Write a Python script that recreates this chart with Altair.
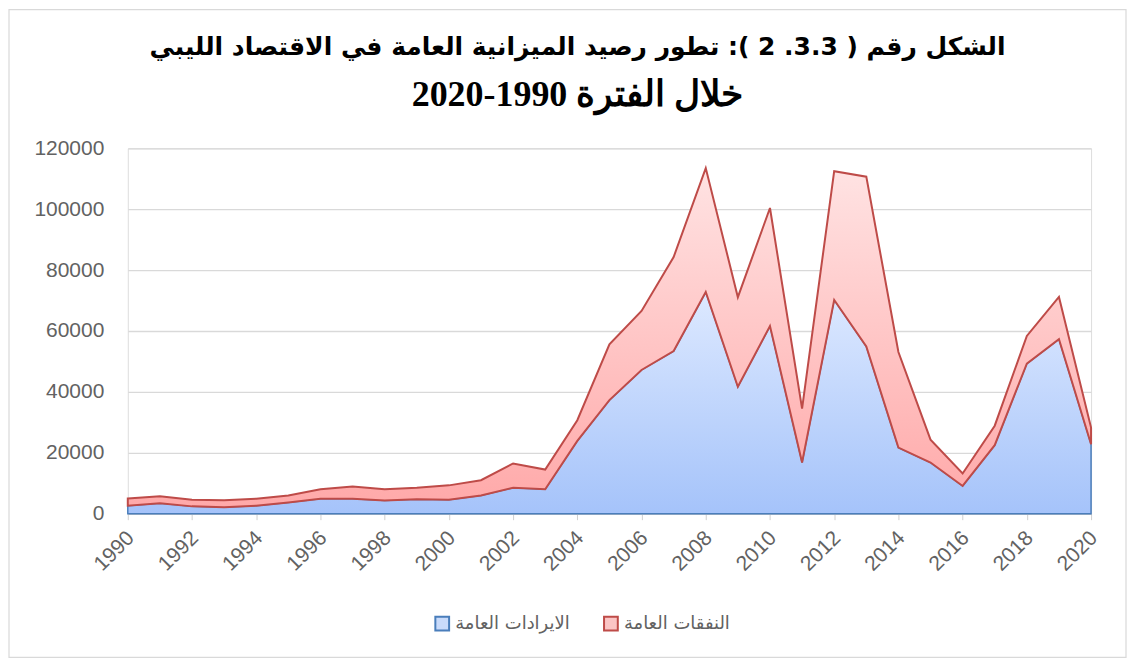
import altair as alt
import pandas as pd

years = list(range(1990, 2021))
revenue = [2600, 3400, 2400, 2100, 2600, 3700, 4900, 4900, 4300, 4700, 4600,
           6000, 8500, 8000, 23900, 37300, 47200, 53400, 72800, 41700, 61600,
           16800, 70200, 54900, 21700, 16800, 9100, 22500, 49300, 57300, 22800]
expenditure = [2400, 2300, 2200, 2300, 2300, 2300, 3100, 4000, 3700, 3800, 4700,
               5000, 8000, 6500, 6800, 18300, 19400, 30900, 40700, 29400, 38800,
               17700, 42300, 55800, 31400, 7500, 4100, 6400, 9100, 13900, 5500]
series_names = ["الايرادات العامة", "النفقات العامة"]
y_ticks = [0, 20000, 40000, 60000, 80000, 100000, 120000]

title_line1 = "الشكل رقم ( 3.3. 2 ): تطور رصيد الميزانية العامة في الاقتصاد الليبي"
title_line2 = "خلال الفترة 1990-2020"

df = pd.DataFrame({"year": years, "rev": revenue, "exp": expenditure})
legend_df = pd.DataFrame({"series": series_names})
frame_df = pd.DataFrame({"frame": [0]})

grey = "#626262"

x_enc = alt.X("year:Q",
              scale=alt.Scale(domain=[1990, 2020], nice=False, zero=False),
              axis=alt.Axis(values=years, format="d",
                            labelExpr="datum.value % 2 == 0 ? datum.label : ''",
                            labelAngle=315, labelAlign="right", labelBaseline="top",
                            labelFont="Liberation Sans", labelFontSize=21,
                            labelColor=grey, labelPadding=7, labelOffset=-5,
                            grid=False, ticks=True, tickSize=6, tickColor="#d0d0d0",
                            domainColor="#c8c8c8", domainWidth=1.5,
                            title=None))

y_scale = alt.Scale(domain=[0, 120000], nice=False)
y_axis = alt.Axis(values=y_ticks, format="d", labelFont="Liberation Sans",
                  labelFontSize=21, labelColor=grey, labelPadding=24,
                  ticks=False, tickSize=0, domain=False,
                  gridColor="#d9d9d9", gridWidth=1.3, title=None)

blue_grad = alt.Gradient(gradient="linear",
                         stops=[alt.GradientStop(color="#dde9ff", offset=0),
                                alt.GradientStop(color="#a5c3fa", offset=1)],
                         x1=0, x2=0, y1=0, y2=1)
red_grad = alt.Gradient(gradient="linear",
                        stops=[alt.GradientStop(color="#ffe3e3", offset=0),
                               alt.GradientStop(color="#ffa9a9", offset=1)],
                        x1=0, x2=0, y1=0, y2=1)

base = alt.Chart(df)

rev_area = base.mark_area(fill=blue_grad, stroke="#4a7ebb", strokeWidth=1.5,
                          interpolate="linear").encode(
    x=x_enc,
    y=alt.Y("rev:Q", scale=y_scale, axis=y_axis),
)

exp_area = base.transform_calculate(total="datum.rev + datum.exp").mark_area(
    fill=red_grad, stroke="#be4b48", strokeWidth=2, interpolate="linear",
    strokeJoin="miter").encode(
    x=alt.X("year:Q"),
    y=alt.Y("total:Q"),
    y2=alt.Y2("rev:Q"),
)

legend_props = dict(title=None, orient="none", direction="horizontal",
                    legendX=306, legendY=467,
                    symbolType="square", symbolSize=190,
                    symbolOpacity=1, symbolStrokeWidth=2,
                    labelFont="DejaVu Sans", labelFontSize=18,
                    labelColor=grey, labelOffset=4,
                    columnPadding=30)

legend_layer = alt.Chart(legend_df).mark_point(shape="square", filled=True,
                                               opacity=0, size=10).encode(
    x=alt.value(0), y=alt.value(0),
    color=alt.Color("series:N",
                    scale=alt.Scale(domain=series_names, range=["#c9dbfb", "#fbc5c5"]),
                    legend=alt.Legend(**legend_props)),
    stroke=alt.Stroke("series:N",
                      scale=alt.Scale(domain=series_names, range=["#4a7ebb", "#be4b48"]),
                      legend=alt.Legend(**legend_props)),
)

# outer chart border (Excel-style chart frame)
frame = alt.Chart(frame_df).mark_rect(fillOpacity=0, stroke="#d9d9d9",
                                      strokeWidth=1.2).encode(
    x=alt.value(-119), x2=alt.value(1000),
    y=alt.value(-139), y2=alt.value(510),
)

chart = alt.layer(frame, rev_area, exp_area, legend_layer).properties(
    width=965, height=366,
    padding={"left": 0, "top": 0, "right": 0, "bottom": 0},
    title=alt.TitleParams(text=title_line1, subtitle=title_line2,
                          font="DejaVu Sans", fontSize=25, fontWeight="bold",
                          color="black",
                          subtitleFont="Liberation Serif", subtitleFontSize=36,
                          subtitleFontWeight="bold", subtitleColor="black",
                          subtitlePadding=18,
                          anchor="middle", frame="group", dx=-32, offset=-104),
).configure_view(stroke=None).configure(background="white")

chart.save("out.html", embed_options={"renderer": "svg", "actions": False})
